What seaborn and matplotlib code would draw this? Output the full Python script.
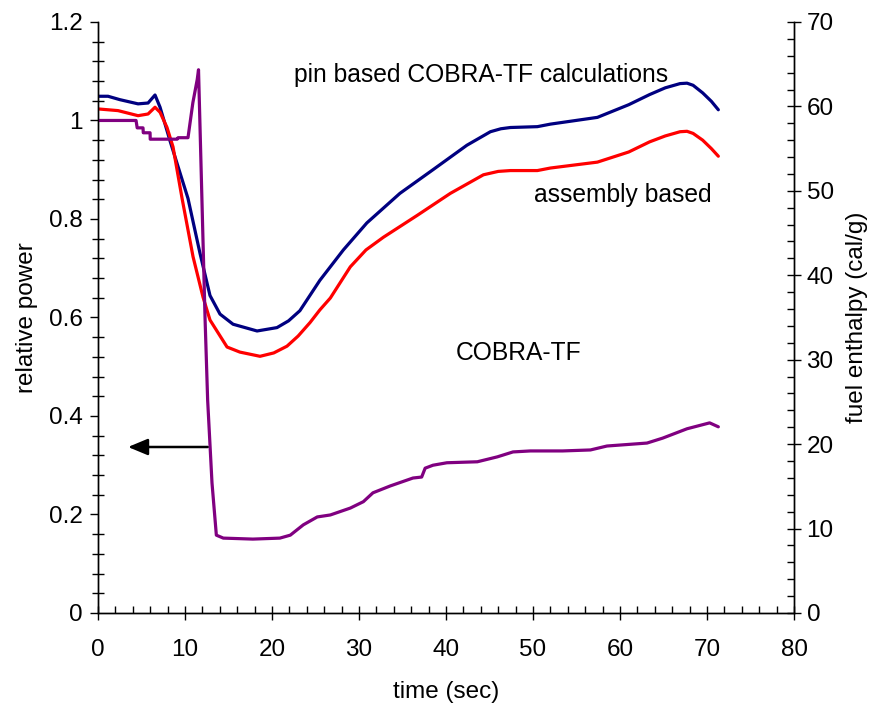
import numpy as np
import pandas as pd
import matplotlib
matplotlib.use("Agg")
import matplotlib.pyplot as plt
import seaborn as sns
from matplotlib.ticker import MultipleLocator

# ---- data ----
# relative power (left axis)
power_t = [0.0, 4.37, 4.5, 5.17, 5.2, 5.98, 6.0, 9.1, 9.2, 10.34, 10.9, 11.4, 11.55,
           12.3, 12.6, 13.1, 13.6, 14.4, 17.8, 20.9, 22.1, 23.6, 25.2, 26.7, 29.0,
           30.5, 31.6, 33.6, 36.2, 37.2, 37.6, 38.5, 40.1, 43.6, 45.9, 47.7, 49.7,
           53.4, 56.6, 58.5, 63.1, 64.9, 67.7, 70.3, 71.3]
power_v = [1.0, 1.0, 0.985, 0.985, 0.975, 0.975, 0.962, 0.962, 0.965, 0.965, 1.036,
           1.083, 1.103, 0.599, 0.432, 0.264, 0.158, 0.152, 0.150, 0.152, 0.158,
           0.179, 0.195, 0.199, 0.213, 0.226, 0.244, 0.258, 0.274, 0.276, 0.294,
           0.300, 0.305, 0.307, 0.317, 0.327, 0.329, 0.329, 0.331, 0.339, 0.345,
           0.355, 0.374, 0.386, 0.378]

# pin based COBRA-TF fuel enthalpy (right axis)
pin_t = [0.0, 1.15, 2.5, 4.6, 5.75, 6.55, 7.13, 8.28, 10.34, 11.72, 12.87, 14.02,
         15.52, 18.28, 20.57, 21.9, 23.2, 25.5, 28.2, 30.9, 34.7, 38.5, 42.4, 45.1,
         46.3, 47.4, 50.5, 52.0, 57.4, 61.0, 63.4, 65.2, 66.9, 67.7, 68.4, 69.5,
         70.5, 71.3]
pin_e = [61.2, 61.2, 60.8, 60.3, 60.4, 61.35, 59.9, 55.9, 49.1, 42.6, 37.6, 35.4,
         34.2, 33.4, 33.8, 34.6, 35.8, 39.4, 43.0, 46.2, 49.7, 52.5, 55.4, 57.0,
         57.35, 57.5, 57.6, 57.9, 58.7, 60.2, 61.4, 62.2, 62.7, 62.75, 62.5, 61.6,
         60.6, 59.6]

# assembly based fuel enthalpy (right axis)
asm_t = [0.0, 2.3, 4.6, 5.75, 6.55, 7.13, 7.93, 8.62, 9.66, 10.92, 12.07, 12.87,
         14.83, 16.3, 18.62, 20.2, 21.72, 23.0, 24.37, 25.5, 26.7, 29.0, 30.8,
         32.8, 36.7, 40.5, 44.3, 46.0, 47.4, 50.5, 52.0, 57.4, 61.0, 63.4, 65.2,
         66.9, 67.7, 68.4, 69.5, 70.5, 71.3]
asm_e = [59.7, 59.5, 58.9, 59.1, 59.9, 59.3, 57.5, 55.2, 49.1, 42.2, 37.4, 34.7,
         31.5, 30.9, 30.4, 30.8, 31.6, 32.8, 34.4, 35.9, 37.3, 41.0, 43.0, 44.5,
         47.1, 49.7, 51.9, 52.3, 52.4, 52.4, 52.7, 53.4, 54.6, 55.8, 56.5, 57.0,
         57.05, 56.8, 56.0, 55.0, 54.1]

power_df = pd.DataFrame({"time": power_t, "power": power_v})
pin_df = pd.DataFrame({"time": pin_t, "enthalpy": pin_e})
asm_df = pd.DataFrame({"time": asm_t, "enthalpy": asm_e})

sns.set_style("white")
plt.rcParams["font.family"] = ["Liberation Sans", "DejaVu Sans"]
for k in ("text.color", "axes.labelcolor", "xtick.color", "ytick.color"):
    plt.rcParams[k] = "black"

FS = 17.5
fig = plt.figure(figsize=(8.8, 7.04), dpi=100)
ax = fig.add_axes([0.1114, 0.1293, 0.7909, 0.8395])
ax2 = ax.twinx()

sns.lineplot(data=pin_df, x="time", y="enthalpy", ax=ax2, color="#000080",
             lw=2.3, sort=False, estimator=None)
sns.lineplot(data=asm_df, x="time", y="enthalpy", ax=ax2, color="#ff0000",
             lw=2.3, sort=False, estimator=None)
sns.lineplot(data=power_df, x="time", y="power", ax=ax, color="#800080",
             lw=2.3, sort=False, estimator=None)

ax.set_zorder(ax2.get_zorder() + 1)
ax.patch.set_visible(False)

ax.set_xlim(0, 80)
ax.set_ylim(0, 1.2)
ax2.set_ylim(0, 70)

for a in (ax, ax2):
    for s in a.spines.values():
        s.set_color("black")
        s.set_linewidth(1.0)
    a.spines["top"].set_visible(False)

ax.xaxis.set_major_locator(MultipleLocator(10))
ax.xaxis.set_minor_locator(MultipleLocator(2))
ax.yaxis.set_major_locator(MultipleLocator(0.2))
ax.yaxis.set_minor_locator(MultipleLocator(0.04))
ax2.yaxis.set_major_locator(MultipleLocator(10))
ax2.yaxis.set_minor_locator(MultipleLocator(2))
ax.yaxis.set_major_formatter(plt.FuncFormatter(lambda v, p: f"{v:g}"))

ax.tick_params(axis="x", which="major", direction="inout", length=10, width=1,
               labelsize=FS, pad=14, bottom=True, top=False)
ax.tick_params(axis="x", which="minor", direction="in", length=5, width=1,
               bottom=True, top=False)
ax.tick_params(axis="y", which="major", direction="out", length=6, width=1,
               labelsize=FS, pad=5, left=True, right=False)
ax.tick_params(axis="y", which="minor", direction="inout", length=8, width=1,
               left=True, right=False)
ax2.tick_params(axis="y", which="major", direction="inout", length=10, width=1,
                labelsize=FS, pad=4, right=True, left=False)
ax2.tick_params(axis="y", which="minor", direction="in", length=5, width=1,
                right=True, left=False)

ax.set_xlabel("time (sec)", fontsize=FS, labelpad=14)
ax.set_ylabel("relative power", fontsize=FS, labelpad=8)
ax2.set_ylabel("fuel enthalpy (cal/g)", fontsize=FS, labelpad=9)

ax.text(44, 1.092, "pin based COBRA-TF calculations", fontsize=17.7,
        ha="center", va="center")
ax.text(60.3, 0.848, "assembly based", fontsize=17.7, ha="center", va="center")
ax.text(48.3, 0.528, "COBRA-TF", fontsize=17.7, ha="center", va="center")

ax.annotate("", xy=(3.45, 0.337), xytext=(12.6, 0.337),
            arrowprops=dict(arrowstyle="-|>,head_length=1.2,head_width=0.5",
                            color="black", lw=1.8, shrinkA=0, shrinkB=0))

fig.savefig("out.png", dpi=100)
